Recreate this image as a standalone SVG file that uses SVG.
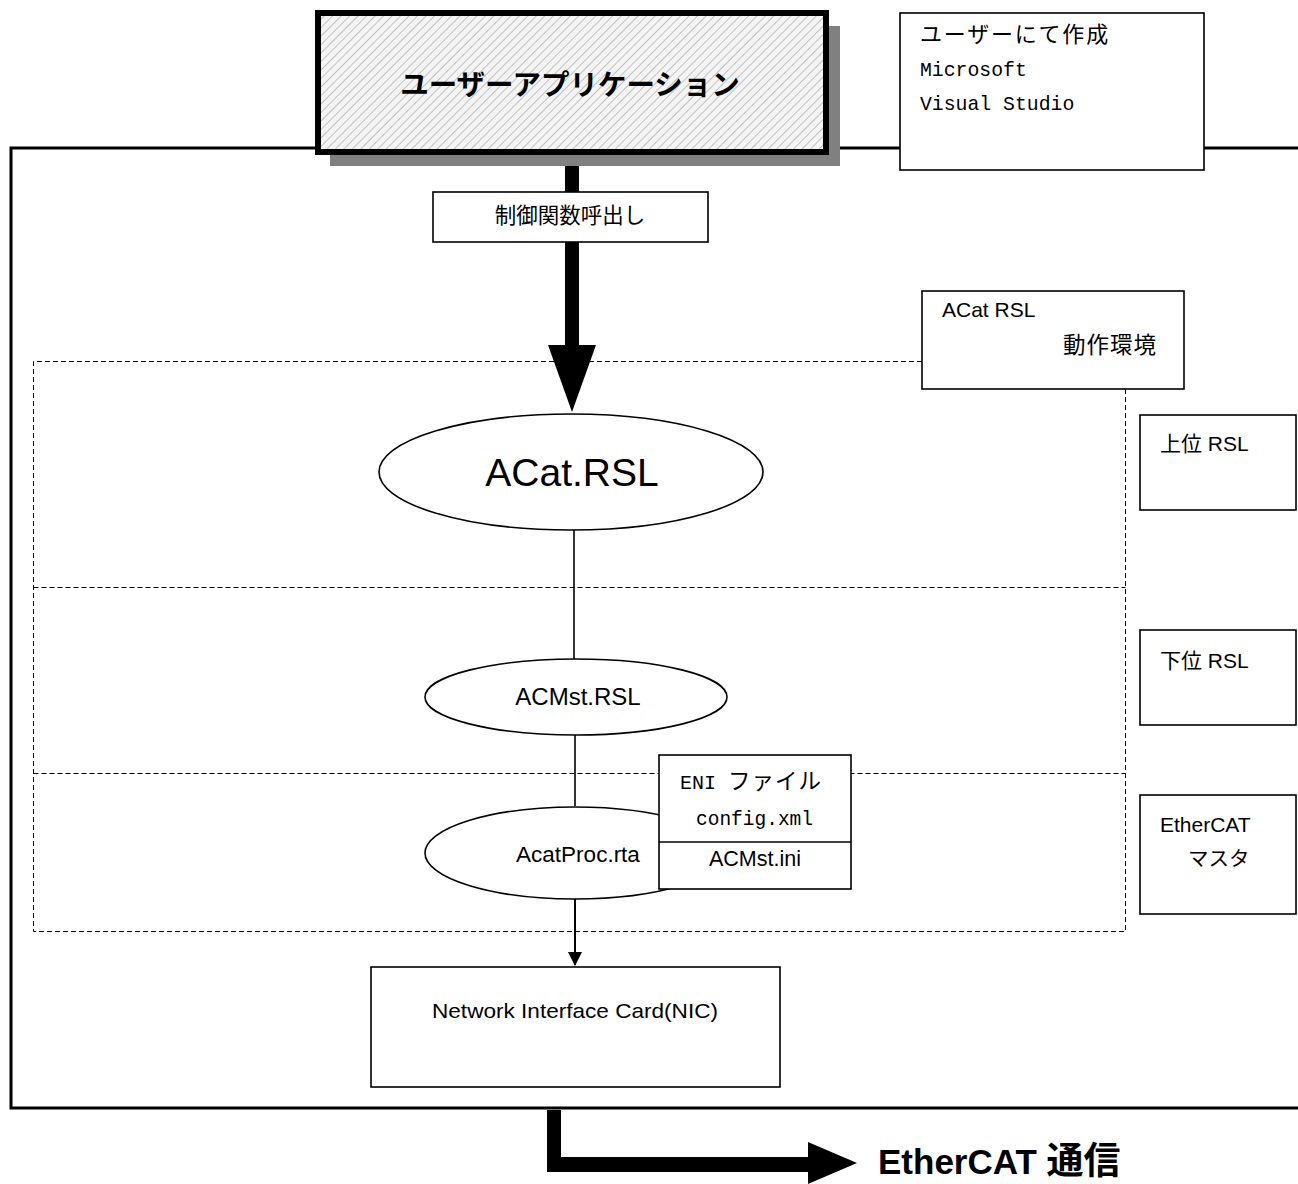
<svg xmlns="http://www.w3.org/2000/svg" width="1298" height="1184" viewBox="0 0 1298 1184">
  <defs>
    <pattern id="hatch" width="6" height="6" patternUnits="userSpaceOnUse" patternTransform="rotate(45)">
      <rect width="6" height="6" fill="#f4f4f4"/>
      <line x1="0" y1="0" x2="0" y2="6" stroke="#b4b4b4" stroke-width="1.6"/>
    </pattern>
    <marker id="tri" markerWidth="14" markerHeight="14" refX="13" refY="7" orient="auto" markerUnits="userSpaceOnUse" viewBox="0 0 14 14">
      <path d="M0,0 L14,7 L0,14 Z" fill="#000"/>
    </marker>
    <style>
      .box { fill: #fff; stroke: #000; stroke-width: 1.6; }
      .ell { fill: #fff; stroke: #000; stroke-width: 1.6; }
      .dash { fill: none; stroke: #000; stroke-width: 1; stroke-dasharray: 5 3; }
      .sans { font-family: "Liberation Sans", "Noto Sans CJK JP", sans-serif; fill: #000; }
      .jp { font-family: "Noto Sans CJK JP", sans-serif; fill: #000; }
      .mono { font-family: "Liberation Mono", "Noto Sans CJK JP", monospace; fill: #000; }
    </style>
  </defs>

  <rect width="1298" height="1184" fill="#fff"/>

  <!-- outer system frame (open on the right) -->
  <path d="M1300,148 H11 V1108 H1300" fill="none" stroke="#000" stroke-width="3"/>

  <!-- layer regions -->
  <g id="layers">
    <path class="dash" d="M922,361.5 H33.5 V931.5 H1125.5 V389"/>
    <line class="dash" x1="33.5" y1="587.5" x2="1125.5" y2="587.5"/>
    <line class="dash" x1="33.5" y1="773.5" x2="1125.5" y2="773.5"/>
  </g>

  <!-- connectors -->
  <g id="connectors">
    <rect x="565" y="150" width="14" height="196" fill="#000"/>
    <path d="M548,345 L596,345 L572,412 Z" fill="#000"/>
    <line x1="574" y1="530" x2="574" y2="659" stroke="#000" stroke-width="1.6"/>
    <line x1="575" y1="734" x2="575" y2="806" stroke="#000" stroke-width="1.6"/>
    <line x1="575" y1="899" x2="575" y2="965" stroke="#000" stroke-width="2" marker-end="url(#tri)"/>
    <path d="M547,1110 V1172 H810 V1157 H561 V1110 Z" fill="#000"/>
    <path d="M808,1142 L857,1163 L808,1184 Z" fill="#000"/>
  </g>

  <!-- user application -->
  <g id="user-app">
    <rect x="330" y="26" width="510" height="140" fill="#808080"/>
    <rect x="318" y="13" width="508" height="139" fill="url(#hatch)" stroke="#000" stroke-width="6"/>
    <text class="jp" x="570" y="95" font-size="28.5" font-weight="bold" text-anchor="middle">ユーザーアプリケーション</text>
  </g>

  <g id="note-user">
    <rect class="box" x="900" y="13" width="304" height="157"/>
    <text class="jp" x="920" y="42" font-size="22" letter-spacing="1.8">ユーザーにて作成</text>
    <text class="mono" x="920" y="76" font-size="19.8">Microsoft</text>
    <text class="mono" x="920" y="110" font-size="19.8">Visual Studio</text>
  </g>

  <g id="call-label">
    <rect class="box" x="433" y="192" width="275" height="50"/>
    <text class="jp" x="570" y="223" font-size="21.5" text-anchor="middle">制御関数呼出し</text>
  </g>

  <g id="note-env">
    <rect class="box" x="922" y="291" width="262" height="98"/>
    <text class="sans" x="942" y="317" font-size="21">ACat RSL</text>
    <text class="jp" x="1063" y="353" font-size="22.5" letter-spacing="1">動作環境</text>
  </g>

  <g id="tag-upper">
    <rect class="box" x="1140" y="415" width="156" height="95"/>
    <text class="sans" x="1160" y="451" font-size="21">上位 RSL</text>
  </g>

  <g id="tag-lower">
    <rect class="box" x="1140" y="630" width="156" height="95"/>
    <text class="sans" x="1160" y="668" font-size="21">下位 RSL</text>
  </g>

  <g id="tag-master">
    <rect class="box" x="1140" y="795" width="156" height="119"/>
    <text class="sans" x="1160" y="832" font-size="21">EtherCAT</text>
    <text class="jp" x="1188" y="866" font-size="20.5">マスタ</text>
  </g>

  <g id="acat-rsl">
    <ellipse class="ell" cx="571" cy="472" rx="192" ry="58"/>
    <text class="sans" x="572" y="486" font-size="39" text-anchor="middle">ACat.RSL</text>
  </g>

  <g id="acmst-rsl">
    <ellipse class="ell" cx="576" cy="697" rx="151" ry="38"/>
    <text class="sans" x="578" y="705" font-size="24" text-anchor="middle">ACMst.RSL</text>
  </g>

  <g id="acatproc">
    <ellipse class="ell" cx="575" cy="853" rx="150" ry="46"/>
    <text class="sans" x="578" y="862" font-size="22.5" text-anchor="middle">AcatProc.rta</text>
  </g>

  <g id="config-files">
    <rect class="box" x="659" y="755" width="192" height="134"/>
    <line x1="659" y1="842" x2="851" y2="842" stroke="#000" stroke-width="1.6"/>
    <text class="mono" x="680" y="789" font-size="20">ENI <tspan font-family="Noto Sans CJK JP, sans-serif" font-size="22.5" letter-spacing="1">ファイル</tspan></text>
    <text class="mono" x="696" y="825" font-size="19.5">config.xml</text>
    <text class="sans" x="755" y="866" font-size="21.5" text-anchor="middle">ACMst.ini</text>
  </g>

  <g id="nic">
    <rect class="box" x="371" y="967" width="409" height="120" stroke-width="2"/>
    <text class="sans" x="575" y="1018" font-size="21" text-anchor="middle" textLength="286" lengthAdjust="spacingAndGlyphs">Network Interface Card(NIC)</text>
  </g>

  <g id="ethercat-out">
    <text class="sans" x="878" y="1174" font-size="35" font-weight="bold">EtherCAT <tspan font-family="Noto Sans CJK JP, sans-serif" font-size="37">通信</tspan></text>
  </g>
</svg>
